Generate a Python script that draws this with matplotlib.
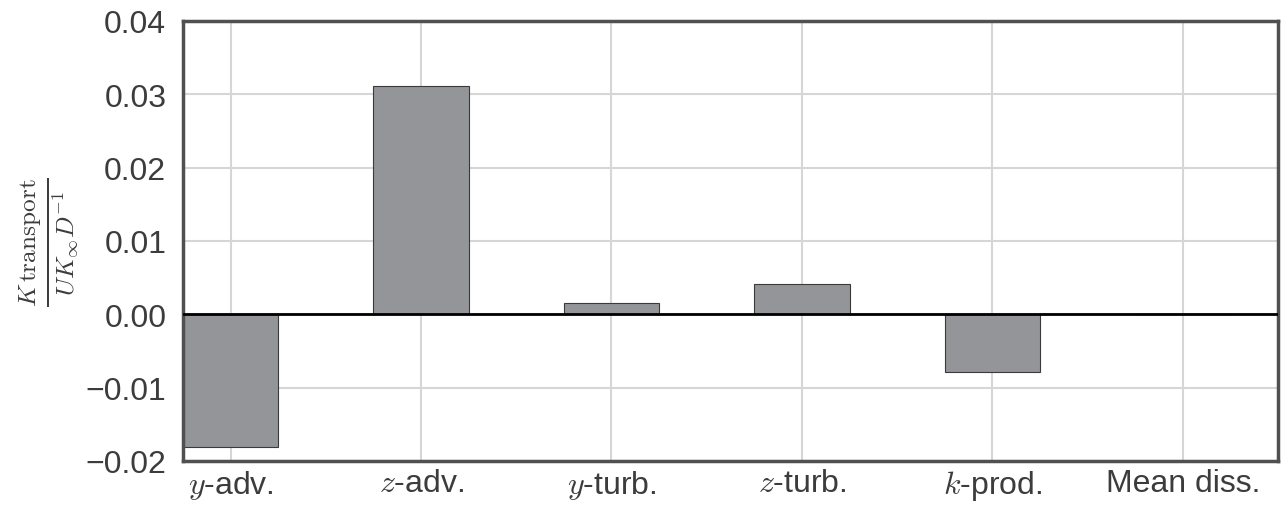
import matplotlib
matplotlib.use("Agg")
import matplotlib.pyplot as plt
import numpy as np

categories = [r"$y$-adv.", r"$z$-adv.", r"$y$-turb.", r"$z$-turb.", r"$k$-prod.", "Mean diss."]
values = [-0.0181, 0.0311, 0.0015, 0.0042, -0.0079, 0.0]
yticks = [-0.02, -0.01, 0.0, 0.01, 0.02, 0.03, 0.04]
ytick_labels = ["\u22120.02", "\u22120.01", "0.00", "0.01", "0.02", "0.03", "0.04"]

plt.rcParams['font.family'] = ['Liberation Sans', 'DejaVu Sans']
plt.rcParams['mathtext.fontset'] = 'cm'

fig = plt.figure(figsize=(12.85, 5.06), dpi=100)
ax = fig.add_axes([183/1285, 1 - 462/506, (1278-183)/1285, (462-22)/506])

x = np.arange(len(categories))
ax.bar(x, values, width=0.5, color="#939598", edgecolor="#3a3a3a", linewidth=0.8, zorder=2)
ax.axhline(0, color="black", linewidth=2, zorder=3)

ax.set_xlim(-0.25, 5.5)
ax.set_ylim(-0.02, 0.04)
ax.set_yticks(yticks)
ax.set_yticklabels(ytick_labels)
ax.set_xticks(x)
ax.set_xticklabels(categories)

ax.grid(True, color="#d6d6d6", linewidth=1.5, zorder=0)
ax.set_axisbelow(True)
for s in ax.spines.values():
    s.set_color("#505050")
    s.set_linewidth(2.5)
ax.tick_params(axis='both', length=0, labelsize=23, colors="#3c3c3c")
ax.tick_params(axis='y', pad=12)
ax.tick_params(axis='x', pad=5)

ax.set_ylabel(r"$\frac{K\,\mathrm{transport}}{UK_{\infty}D^{-1}}$", fontsize=26, color="#3c3c3c", labelpad=4)

fig.savefig("out.png", dpi=100)
